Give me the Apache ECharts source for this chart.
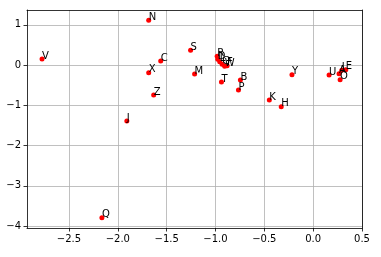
<!DOCTYPE html>
<html>
<head>
<meta charset="utf-8">
<script src="https://cdn.jsdelivr.net/npm/echarts@6/dist/echarts.min.js"></script>
<style>
html,body{margin:0;padding:0;background:#fff;}
#c{width:381px;height:257px;}
</style>
</head>
<body>
<div id="c"></div>
<script>
const labels = ['A','B','C','D','E','F','G','H','I','J','K','L','M','N','O','P','Q','R','S','T','U','V','W','X','Y','Z'];
const xs = [0.265,-0.745,-1.561,-0.977,0.334,-0.881,-0.932,-0.327,0.293,-1.908,-0.449,-0.957,-1.214,-1.684,0.276,-0.765,-2.163,-0.983,-1.255,-0.939,0.163,-2.776,-0.906,-1.684,-0.217,-1.633];
const ys = [-0.216,-0.372,0.099,0.144,-0.117,-0.017,0.02,-1.035,-0.129,-1.39,-0.868,0.082,-0.223,1.117,-0.365,-0.62,-3.797,0.218,0.372,-0.42,-0.248,0.149,-0.03,-0.191,-0.24,-0.744];
const xTicks = [-2.5,-2.0,-1.5,-1.0,-0.5,0.0,0.5];
const yTicks = [-4,-3,-2,-1,0,1];

const FONT = 'DejaVu Sans';
const fmtMinus = s => s.replace('-', '\u2212');
const data = labels.map((l,i)=>({value:[xs[i],ys[i]], name:l}));

const chart = echarts.init(document.getElementById('c'), null, {renderer:'canvas'});
const xMin=-2.93, xMax=0.5, yMin=-4.05, yMax=1.37;
chart.setOption({
  animation:false,
  backgroundColor:'#fff',
  grid:{left:27, right:19, top:10, bottom:29},
  xAxis:[{
    type:'value', min:xMin, max:xMax, position:'bottom',
    axisLine:{show:true, onZero:false, lineStyle:{color:'#000', width:0.8}},
    axisTick:{show:true, length:3.5, customValues:xTicks, lineStyle:{color:'#000', width:0.8}},
    axisLabel:{customValues:xTicks, color:'#000', fontFamily:FONT, fontSize:10, margin:6,
      formatter:v=>fmtMinus(v.toFixed(1))},
    splitLine:{show:true, lineStyle:{color:'#b0b0b0', width:0.8}}
  },{
    type:'value', min:xMin, max:xMax, position:'top',
    axisLine:{show:true, onZero:false, lineStyle:{color:'#000', width:0.8}},
    axisTick:{show:false}, axisLabel:{show:false}, splitLine:{show:false}
  }],
  yAxis:[{
    type:'value', min:yMin, max:yMax, position:'left',
    axisLine:{show:true, onZero:false, lineStyle:{color:'#000', width:0.8}},
    axisTick:{show:true, length:3.5, customValues:yTicks, lineStyle:{color:'#000', width:0.8}},
    axisLabel:{customValues:yTicks, color:'#000', fontFamily:FONT, fontSize:10, margin:6,
      formatter:v=>fmtMinus(String(Math.round(v)))},
    splitLine:{show:true, lineStyle:{color:'#b0b0b0', width:0.8}}
  },{
    type:'value', min:yMin, max:yMax, position:'right',
    axisLine:{show:true, onZero:false, lineStyle:{color:'#000', width:0.8}},
    axisTick:{show:false}, axisLabel:{show:false}, splitLine:{show:false}
  }],
  series:[{
    type:'scatter', xAxisIndex:0, yAxisIndex:0,
    symbol:'circle', symbolSize:5,
    itemStyle:{color:'#ff0000', opacity:1},
    emphasis:{disabled:true},
    data:data,
    label:{show:true, formatter:p=>p.name, position:[2.5,4.5], align:'left', verticalAlign:'bottom',
      color:'#000', fontFamily:FONT, fontSize:10}
  }]
});
</script>
</body>
</html>
